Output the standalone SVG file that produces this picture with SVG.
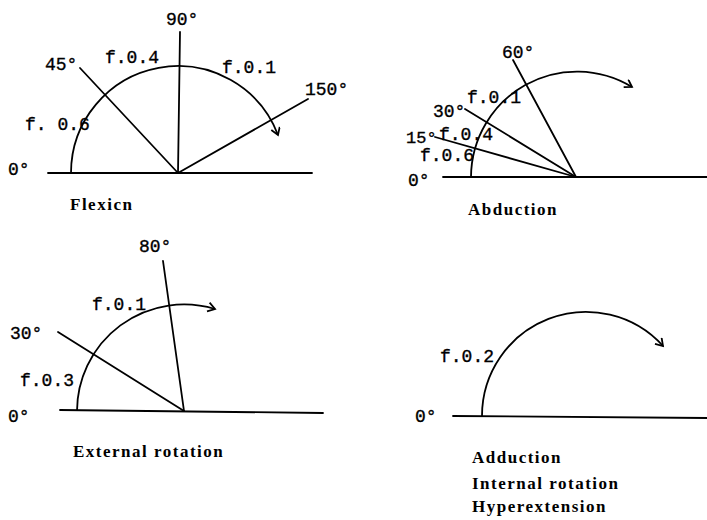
<svg xmlns="http://www.w3.org/2000/svg" width="707" height="520" viewBox="0 0 707 520">
<style>
.ln{stroke:#000;stroke-width:1.8;fill:none;stroke-linecap:round}
.arc{stroke:#000;stroke-width:1.8;fill:none;marker-end:url(#hook)}
.lb{font-family:"Liberation Mono",monospace;font-size:18px;fill:#000;stroke:#000;stroke-width:0.35}
.cap{font-family:"Liberation Serif",serif;font-weight:bold;font-size:17px;letter-spacing:1.5px;fill:#000}
</style>
<defs>
<marker id="hook" markerUnits="userSpaceOnUse" markerWidth="12" markerHeight="12" refX="8" refY="5" orient="auto">
<path d="M1,0.5 L8,5 L1,9.5" fill="none" stroke="#000" stroke-width="1.8"/>
</marker>
</defs>
<rect width="707" height="520" fill="#fff"/>

<g id="flexion">
<line class="ln" x1="48" y1="173" x2="312" y2="173"/>
<path class="arc" d="M71,173 A107,107 0 0 1 278,135"/>
<line class="ln" x1="180" y1="32" x2="178" y2="173"/>
<line class="ln" x1="80" y1="68" x2="178" y2="173"/>
<line class="ln" x1="178" y1="173" x2="308" y2="99"/>
<text class="lb" x="8" y="175">0°</text>
<text class="lb" x="25" y="130">f. 0.6</text>
<text class="lb" x="45" y="70">45°</text>
<text class="lb" x="105" y="63">f.0.4</text>
<text class="lb" x="166" y="25">90°</text>
<text class="lb" x="222" y="73">f.0.1</text>
<text class="lb" x="305" y="95">150°</text>
<text class="cap" x="70" y="210">Flexicn</text>
</g>

<g id="abduction">
<line class="ln" x1="443" y1="177" x2="707" y2="177"/>
<path class="arc" d="M471,177 A106,106 0 0 1 632,87"/>
<line class="ln" x1="513" y1="60" x2="576" y2="177"/>
<line class="ln" x1="465" y1="109" x2="576" y2="177"/>
<line class="ln" x1="435" y1="137" x2="576" y2="177"/>
<text class="lb" x="408" y="186">0°</text>
<text class="lb" x="420" y="161">f.0.6</text>
<text class="lb" x="406" y="143" style="font-size:17px">15°</text>
<text class="lb" x="439" y="140">f.0.4</text>
<text class="lb" x="433" y="117">30°</text>
<text class="lb" x="467" y="103">f.0.1</text>
<text class="lb" x="502" y="58">60°</text>
<text class="cap" x="468" y="215">Abduction</text>
</g>

<g id="external-rotation">
<line class="ln" x1="60" y1="410" x2="323" y2="413"/>
<path class="arc" d="M77,411 A107,107 0 0 1 215,309"/>
<line class="ln" x1="163" y1="261" x2="184" y2="411"/>
<line class="ln" x1="58" y1="332" x2="184" y2="411"/>
<text class="lb" x="8" y="422">0°</text>
<text class="lb" x="20" y="386">f.0.3</text>
<text class="lb" x="10" y="339">30°</text>
<text class="lb" x="92" y="310">f.0.1</text>
<text class="lb" x="139" y="252">80°</text>
<text class="cap" x="73" y="457">External rotation</text>
</g>

<g id="adduction">
<line class="ln" x1="453" y1="416" x2="707" y2="418"/>
<path class="arc" d="M482,416 A104,104 0 0 1 663,346"/>
<text class="lb" x="415" y="422">0°</text>
<text class="lb" x="440" y="362">f.0.2</text>
<text class="cap" x="472" y="463">Adduction</text>
<text class="cap" x="472" y="489">Internal rotation</text>
<text class="cap" x="472" y="512">Hyperextension</text>
</g>
</svg>
